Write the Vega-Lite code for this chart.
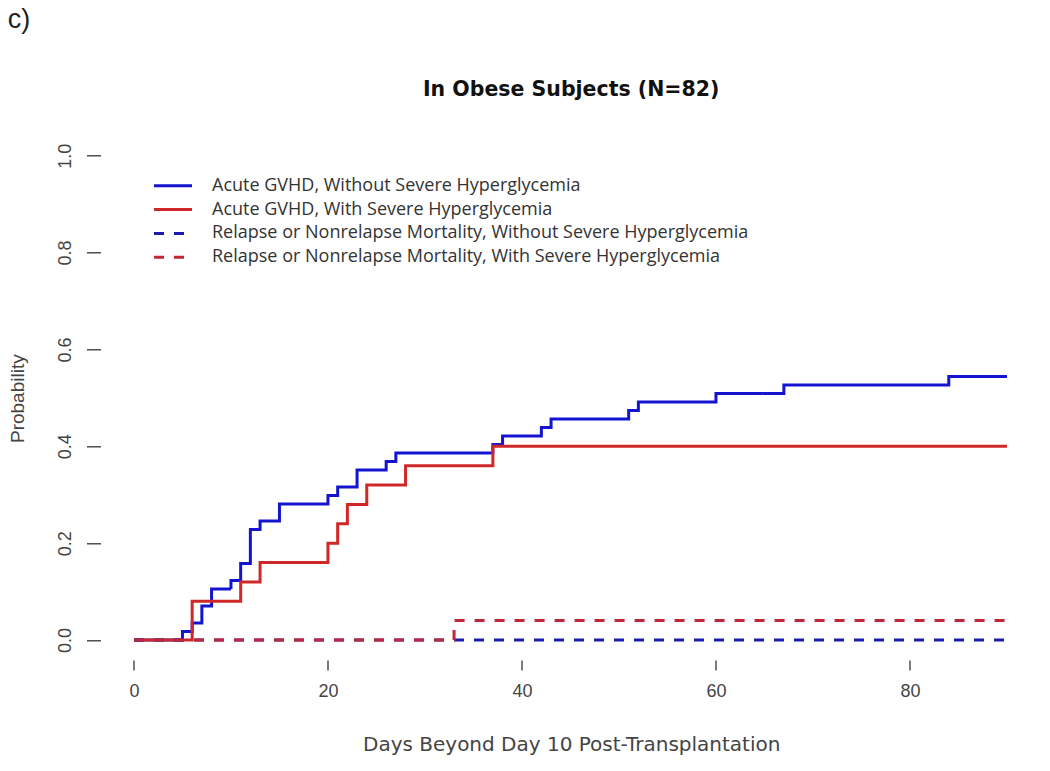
{
  "$schema": "https://vega.github.io/schema/vega-lite/v6.json",
  "width": 941.4,
  "height": 523.7,
  "autosize": {"type": "none"},
  "padding": {"left": 100.5, "top": 136.3, "right": 8.1, "bottom": 111},
  "background": "white",
  "config": {"view": {"stroke": null}, "font": "Liberation Sans"},
  "datasets": {
    "curves": [
      {"day": 0, "p": 0, "series": "Acute GVHD, Without Severe Hyperglycemia"},
      {"day": 5, "p": 0.0175, "series": "Acute GVHD, Without Severe Hyperglycemia"},
      {"day": 6, "p": 0.0351, "series": "Acute GVHD, Without Severe Hyperglycemia"},
      {"day": 7, "p": 0.0702, "series": "Acute GVHD, Without Severe Hyperglycemia"},
      {"day": 8, "p": 0.1053, "series": "Acute GVHD, Without Severe Hyperglycemia"},
      {"day": 10, "p": 0.1228, "series": "Acute GVHD, Without Severe Hyperglycemia"},
      {"day": 11, "p": 0.1579, "series": "Acute GVHD, Without Severe Hyperglycemia"},
      {"day": 12, "p": 0.2281, "series": "Acute GVHD, Without Severe Hyperglycemia"},
      {"day": 13, "p": 0.2456, "series": "Acute GVHD, Without Severe Hyperglycemia"},
      {"day": 15, "p": 0.2807, "series": "Acute GVHD, Without Severe Hyperglycemia"},
      {"day": 20, "p": 0.2982, "series": "Acute GVHD, Without Severe Hyperglycemia"},
      {"day": 21, "p": 0.3158, "series": "Acute GVHD, Without Severe Hyperglycemia"},
      {"day": 23, "p": 0.3509, "series": "Acute GVHD, Without Severe Hyperglycemia"},
      {"day": 26, "p": 0.3684, "series": "Acute GVHD, Without Severe Hyperglycemia"},
      {"day": 27, "p": 0.386, "series": "Acute GVHD, Without Severe Hyperglycemia"},
      {"day": 37, "p": 0.4035, "series": "Acute GVHD, Without Severe Hyperglycemia"},
      {"day": 38, "p": 0.4211, "series": "Acute GVHD, Without Severe Hyperglycemia"},
      {"day": 42, "p": 0.4386, "series": "Acute GVHD, Without Severe Hyperglycemia"},
      {"day": 43, "p": 0.4561, "series": "Acute GVHD, Without Severe Hyperglycemia"},
      {"day": 51, "p": 0.4737, "series": "Acute GVHD, Without Severe Hyperglycemia"},
      {"day": 52, "p": 0.4912, "series": "Acute GVHD, Without Severe Hyperglycemia"},
      {"day": 60, "p": 0.5088, "series": "Acute GVHD, Without Severe Hyperglycemia"},
      {"day": 67, "p": 0.5263, "series": "Acute GVHD, Without Severe Hyperglycemia"},
      {"day": 84, "p": 0.5439, "series": "Acute GVHD, Without Severe Hyperglycemia"},
      {"day": 90, "p": 0.5439, "series": "Acute GVHD, Without Severe Hyperglycemia"},
      {"day": 0, "p": 0, "series": "Acute GVHD, With Severe Hyperglycemia"},
      {"day": 6, "p": 0.08, "series": "Acute GVHD, With Severe Hyperglycemia"},
      {"day": 11, "p": 0.12, "series": "Acute GVHD, With Severe Hyperglycemia"},
      {"day": 13, "p": 0.16, "series": "Acute GVHD, With Severe Hyperglycemia"},
      {"day": 20, "p": 0.2, "series": "Acute GVHD, With Severe Hyperglycemia"},
      {"day": 21, "p": 0.24, "series": "Acute GVHD, With Severe Hyperglycemia"},
      {"day": 22, "p": 0.28, "series": "Acute GVHD, With Severe Hyperglycemia"},
      {"day": 24, "p": 0.32, "series": "Acute GVHD, With Severe Hyperglycemia"},
      {"day": 28, "p": 0.36, "series": "Acute GVHD, With Severe Hyperglycemia"},
      {"day": 37, "p": 0.4, "series": "Acute GVHD, With Severe Hyperglycemia"},
      {"day": 90, "p": 0.4, "series": "Acute GVHD, With Severe Hyperglycemia"},
      {"day": 0, "p": 0, "series": "Relapse or Nonrelapse Mortality, Without Severe Hyperglycemia"},
      {"day": 90, "p": 0, "series": "Relapse or Nonrelapse Mortality, Without Severe Hyperglycemia"},
      {"day": 0, "p": 0, "series": "Relapse or Nonrelapse Mortality, With Severe Hyperglycemia"},
      {"day": 33, "p": 0.04, "series": "Relapse or Nonrelapse Mortality, With Severe Hyperglycemia"},
      {"day": 90, "p": 0.04, "series": "Relapse or Nonrelapse Mortality, With Severe Hyperglycemia"}
    ],
    "panel": [{"label": "c)", "day": -13, "p": 1.28}],
    "heading": [{"label": "In Obese Subjects (N=82)", "day": 45.07, "p": 1.1357}]
  },
  "layer": [
    {
      "data": {"name": "curves"},
      "mark": {"type": "line", "interpolate": "step-after", "strokeWidth": 3, "clip": true},
      "encoding": {
        "x": {"field": "day", "type": "quantitative", "scale": {"domain": [-3.45, 93.6], "nice": false, "zero": false},
          "axis": {"values": [0, 20, 40, 60, 80], "domain": false, "grid": false, "tickSize": 10, "tickColor": "#333333", "tickWidth": 1.3,
            "labelFontSize": 18, "labelColor": "#444444", "labelPadding": 12, "labelFont": "Liberation Sans",
            "title": "Days Beyond Day 10 Post-Transplantation", "titleFontSize": 20, "titleFontWeight": "normal", "titleColor": "#444444", "titleFont": "DejaVu Sans", "titlePadding": 34}},
        "y": {"field": "p", "type": "quantitative", "scale": {"domain": [-0.0413, 1.04], "nice": false, "zero": false},
          "axis": {"values": [0, 0.2, 0.4, 0.6, 0.8, 1.0], "format": ".1f", "domain": false, "grid": false, "tickSize": 14, "tickColor": "#333333", "tickWidth": 1.3,
            "labelFontSize": 18, "labelColor": "#444444", "labelAngle": -90, "labelAlign": "center", "labelBaseline": "bottom", "labelPadding": 12, "labelFont": "Liberation Sans",
            "title": "Probability", "titleFontSize": 19, "titleFontWeight": "normal", "titleColor": "#444444", "titleFont": "Liberation Sans", "titlePadding": 29}},
        "color": {"field": "series", "type": "nominal", "title": null,
          "scale": {"domain": ["Acute GVHD, Without Severe Hyperglycemia", "Acute GVHD, With Severe Hyperglycemia", "Relapse or Nonrelapse Mortality, Without Severe Hyperglycemia", "Relapse or Nonrelapse Mortality, With Severe Hyperglycemia"],
            "range": ["#1414d0", "#d02828", "#1a1ab0", "#c0283a"]},
          "legend": {"orient": "none", "legendX": 63.5, "legendY": 40.5, "symbolType": "M-3.8,0H3.8", "symbolSize": 100, "symbolStrokeWidth": 3, "labelFontSize": 18, "labelFont": "Open Sans", "labelColor": "#333333", "labelOffset": 30, "rowPadding": 5.8, "padding": 0, "labelLimit": 700}},
        "strokeDash": {"field": "series", "type": "nominal", "title": null,
          "scale": {"domain": ["Acute GVHD, Without Severe Hyperglycemia", "Acute GVHD, With Severe Hyperglycemia", "Relapse or Nonrelapse Mortality, Without Severe Hyperglycemia", "Relapse or Nonrelapse Mortality, With Severe Hyperglycemia"],
            "range": [[1, 0], [1, 0], [10, 10], [10, 10]]}},
        "order": {"field": "series", "type": "nominal"}
      }
    },
    {
      "mark": {"type": "rule", "color": "#333333", "strokeWidth": 1.3},
      "encoding": {"x": {"datum": -3.45, "type": "quantitative"}, "y": {"datum": 0, "type": "quantitative"}, "y2": {"datum": 1}}
    },
    {
      "mark": {"type": "rule", "color": "#333333", "strokeWidth": 1.3},
      "encoding": {"y": {"datum": -0.0413, "type": "quantitative"}, "x": {"datum": 0, "type": "quantitative"}, "x2": {"datum": 80}}
    },
    {
      "data": {"name": "panel"},
      "mark": {"type": "text", "fontSize": 27, "font": "Liberation Sans", "align": "left", "baseline": "middle", "color": "#222222", "clip": false},
      "encoding": {"x": {"field": "day", "type": "quantitative"}, "y": {"field": "p", "type": "quantitative"}, "text": {"field": "label"}}
    },
    {
      "data": {"name": "heading"},
      "mark": {"type": "text", "fontSize": 20.5, "font": "DejaVu Sans", "fontWeight": "bold", "align": "center", "baseline": "middle", "color": "#111111", "clip": false},
      "encoding": {"x": {"field": "day", "type": "quantitative"}, "y": {"field": "p", "type": "quantitative"}, "text": {"field": "label"}}
    }
  ]
}
